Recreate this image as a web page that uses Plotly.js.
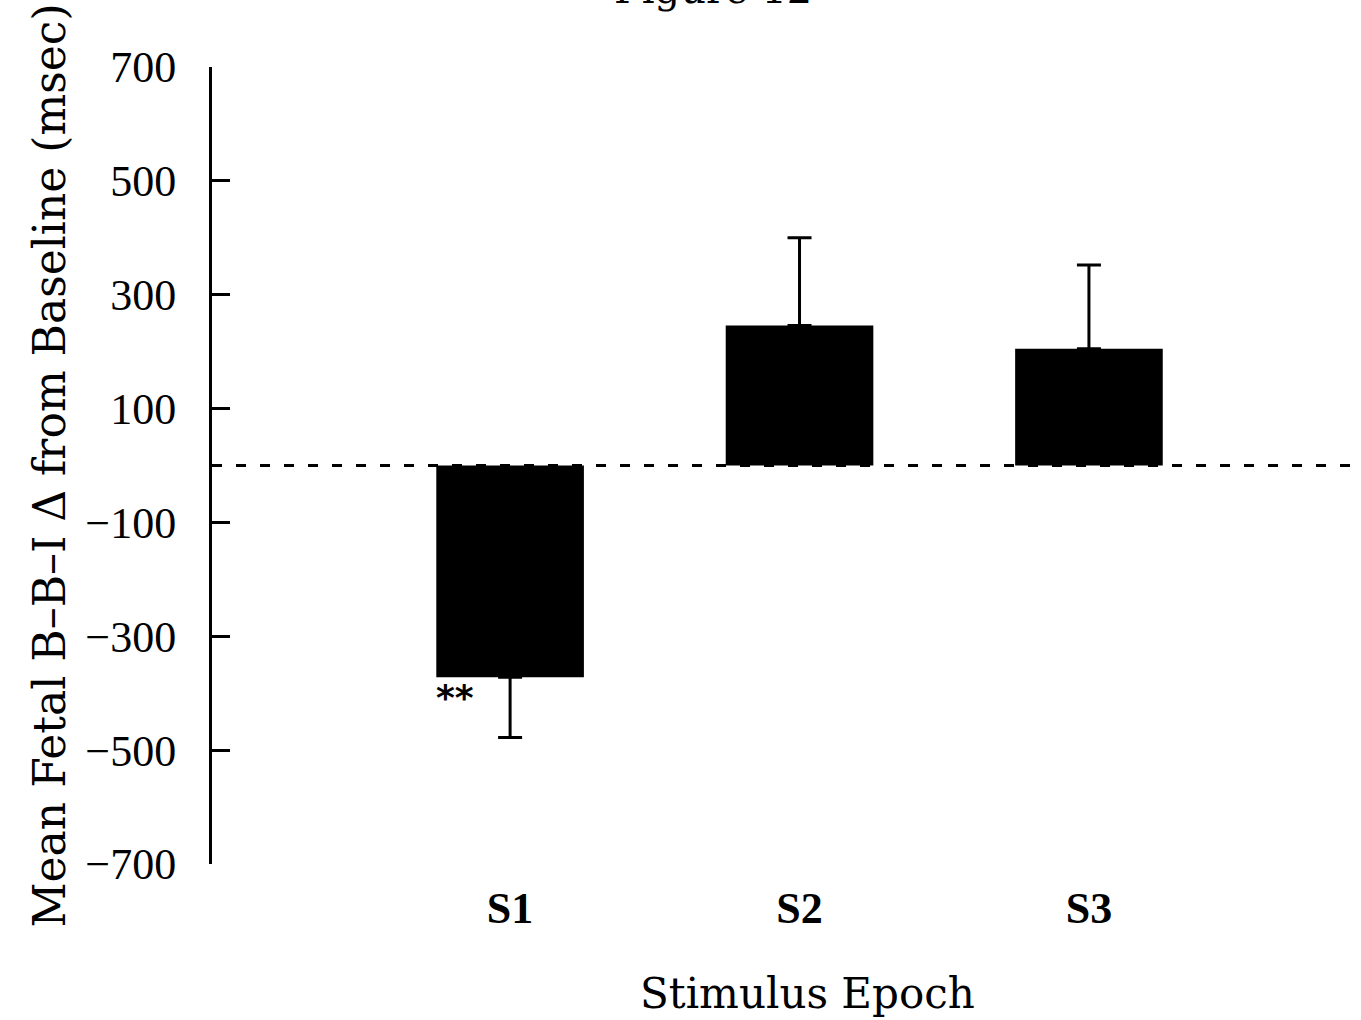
<!DOCTYPE html>
<html>
<head>
<meta charset="utf-8">
<script src="https://cdn.plot.ly/plotly-3.0.1.min.js"></script>
<style>html,body{margin:0;padding:0;background:#fff;}#chart{width:1361px;height:1020px;}</style>
</head>
<body>
<div id="chart"></div>
<script>
const categories = ["S1", "S2", "S3"];
const meanChange = [-372, 246, 205];
const errUp = [0, 154, 147];
const errDown = [106, 0, 0];
const yTickVals = [-700, -500, -300, -100, 100, 300, 500, 700];
const yTickText = ["\u2212700", "\u2212500", "\u2212300", "\u2212100", "100", "300", "500", "700"];
const xPositions = [0, 1, 2];

const trace = {
  type: "bar",
  x: xPositions,
  y: meanChange,
  width: 0.51,
  marker: {color: "#000", line: {width: 0}},
  error_y: {type: "data", symmetric: false, array: errUp, arrayminus: errDown,
            color: "#000", thickness: 3, width: 12},
  hoverinfo: "skip"
};

const layout = {
  width: 1361, height: 1020,
  margin: {l: 212, r: 0, t: 67, b: 156},
  paper_bgcolor: "#fff", plot_bgcolor: "#fff",
  showlegend: false,
  xaxis: {
    range: [-1.03, 2.94],
    tickvals: xPositions, ticktext: categories,
    showline: false, showgrid: false, zeroline: false, ticks: "",
    tickfont: {family: "Liberation Serif", size: 44, color: "#000", weight: "bold"},
    ticklabelstandoff: 14
  },
  yaxis: {
    range: [-700, 700],
    tickvals: yTickVals, ticktext: yTickText,
    showline: true, linecolor: "#000", linewidth: 3,
    ticks: "inside", ticklen: 18, tickwidth: 3, tickcolor: "#000",
    showgrid: false, zeroline: false,
    tickfont: {family: "Liberation Serif", size: 44, color: "#000"},
    ticklabelstandoff: 24
  },
  shapes: [{
    type: "line", xref: "paper", x0: 0, x1: 1, yref: "y", y0: 0, y1: 0,
    line: {color: "#000", width: 3, dash: "10px,14px"}
  }],
  annotations: [
    {text: "Mean Fetal B\u2013B\u2013I \u0394 from Baseline (msec)", textangle: -90,
     xref: "paper", yref: "paper", x: -0.141, y: 0.5, xanchor: "center", yanchor: "middle",
     showarrow: false, font: {family: "DejaVu Serif", size: 44, color: "#000"}},
    {text: "Stimulus Epoch",
     xref: "paper", yref: "paper", x: 0.5187, y: -0.162, xanchor: "center", yanchor: "middle",
     showarrow: false, font: {family: "DejaVu Serif", size: 42, color: "#000"}},
    {text: "Figure 12",
     xref: "paper", yref: "paper", x: 0.436, y: 1.0665, xanchor: "center", yanchor: "bottom",
     showarrow: false, font: {family: "DejaVu Serif", size: 40, color: "#000"}},
    {text: "**",
     xref: "x", yref: "y", x: -0.19, y: -407, xanchor: "center", yanchor: "middle",
     showarrow: false, font: {family: "DejaVu Sans", size: 36, color: "#000", weight: "bold"}}
  ]
};

Plotly.newPlot("chart", [trace], layout, {staticPlot: true, displayModeBar: false});
</script>
</body>
</html>
